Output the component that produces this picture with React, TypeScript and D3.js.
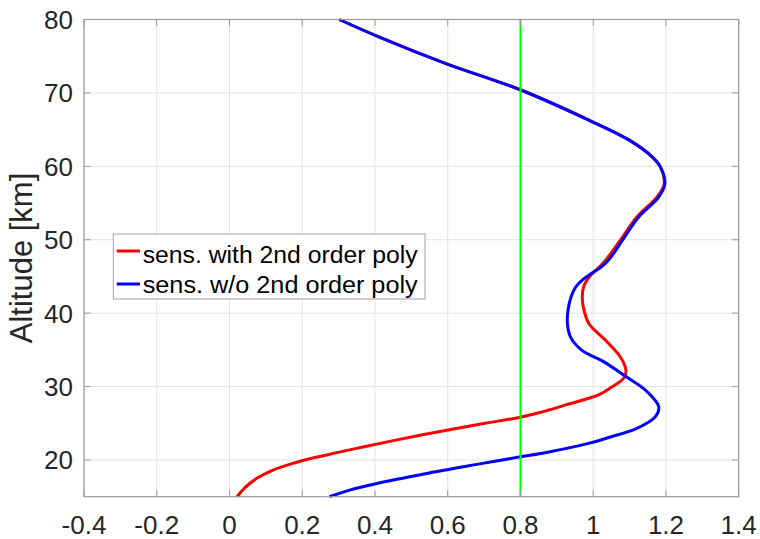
import React from "react";
import * as d3 from "d3";

// Altitude [km] and sensitivity values
const blueAlt = [80, 77.6, 74, 70.5, 66.3, 63.6, 61.3, 59.9, 57.6, 55.8, 53.1, 49.9, 47.4, 46.4, 45.5, 44.6, 43.5, 42.2, 40.5, 38.6, 36.7, 34.9, 33.5, 31.4, 29.5, 27.3, 25.9, 24.3, 23.1, 22.3, 21.1, 20.4, 19.4, 18.1, 16.8, 15.9, 15];
const blueVal = [0.302, 0.412, 0.595, 0.796, 0.988, 1.098, 1.162, 1.185, 1.197, 1.18, 1.125, 1.08, 1.045, 1.025, 0.998, 0.972, 0.951, 0.939, 0.931, 0.929, 0.938, 0.97, 1.025, 1.089, 1.144, 1.18, 1.171, 1.12, 1.045, 0.99, 0.878, 0.796, 0.68, 0.535, 0.405, 0.33, 0.275];

const redAlt = [80, 77.6, 74, 70.5, 66.3, 63.6, 61.3, 59.9, 57.6, 55.8, 53.1, 49.9, 47.4, 46.2, 45.0, 43.8, 42.4, 40.8, 38.6, 36.3, 34.0, 32.2, 31.2, 29.9, 28.9, 27.5, 26.5, 25.8, 25.0, 24.2, 23.4, 22.6, 21.8, 21.0, 20.3, 19.5, 18.6, 17.5, 16.2, 15];
const redVal = [0.302, 0.412, 0.595, 0.796, 0.988, 1.098, 1.162, 1.185, 1.195, 1.175, 1.12, 1.074, 1.037, 1.015, 0.99, 0.975, 0.97, 0.973, 0.988, 1.034, 1.075, 1.09, 1.085, 1.05, 1.016, 0.924, 0.856, 0.796, 0.702, 0.612, 0.527, 0.447, 0.37, 0.295, 0.232, 0.172, 0.118, 0.075, 0.042, 0.021];

const thresholdValue = 0.8;
const xTicks = [-0.4, -0.2, 0, 0.2, 0.4, 0.6, 0.8, 1, 1.2, 1.4];
const yTicks = [20, 30, 40, 50, 60, 70, 80];
const seriesNames = ["sens. with 2nd order poly", "sens. w/o 2nd order poly"];
const seriesColors = ["#ff0000", "#0000ff"];
const yLabel = "Altitude [km]";

const W = 760, H = 539;
const L = 84, R = 738.7, T = 19.5, B = 496.7;
const FONT = "'Liberation Sans', Arial, Helvetica, sans-serif";

export default function App() {
  const x = d3.scaleLinear().domain([-0.4, 1.4]).range([L, R]);
  const y = d3.scaleLinear().domain([15, 80]).range([B, T]);
  const line = d3
    .line<[number, number]>()
    .x((d) => x(d[1]))
    .y((d) => y(d[0]))
    .curve(d3.curveCatmullRom.alpha(0.5));
  const red = redAlt.map((a, i) => [a, redVal[i]] as [number, number]);
  const blue = blueAlt.map((a, i) => [a, blueVal[i]] as [number, number]);
  const tickLen = 6.5;
  const textCol = "#262626";
  const gridCol = "#e3e3e3";
  const boxCol = "#9a9a9a";

  return (
    <svg width={W} height={H} style={{ position: "absolute", left: 0, top: 0, background: "#fff" }} fontFamily={FONT}>
      <rect x={0} y={0} width={W} height={H} fill="#fff" />
      {/* grid */}
      {xTicks.map((t) => (
        <line key={"gx" + t} x1={x(t)} x2={x(t)} y1={T} y2={B} stroke={gridCol} strokeWidth={1} />
      ))}
      {yTicks.map((t) => (
        <line key={"gy" + t} x1={L} x2={R} y1={y(t)} y2={y(t)} stroke={gridCol} strokeWidth={1} />
      ))}
      {/* data */}
      <path d={line(red) || ""} fill="none" stroke={seriesColors[0]} strokeWidth={3} strokeLinejoin="round" />
      <path d={line(blue) || ""} fill="none" stroke={seriesColors[1]} strokeWidth={3} strokeLinejoin="round" />
      <line x1={x(thresholdValue)} x2={x(thresholdValue)} y1={T} y2={B} stroke="#00ff00" strokeWidth={2} />
      {/* box and ticks */}
      <rect x={L} y={T} width={R - L} height={B - T} fill="none" stroke={boxCol} strokeWidth={1.2} />
      {xTicks.map((t) => (
        <g key={"tx" + t}>
          <line x1={x(t)} x2={x(t)} y1={B} y2={B - tickLen} stroke={boxCol} />
          <line x1={x(t)} x2={x(t)} y1={T} y2={T + tickLen} stroke={boxCol} />
          <text x={x(t)} y={534} textAnchor="middle" fontSize={26} fill={textCol}>
            {t}
          </text>
        </g>
      ))}
      {yTicks.map((t) => (
        <g key={"ty" + t}>
          <line x1={L} x2={L + tickLen} y1={y(t)} y2={y(t)} stroke={boxCol} />
          <line x1={R} x2={R - tickLen} y1={y(t)} y2={y(t)} stroke={boxCol} />
          <text x={73} y={y(t) + 9.5} textAnchor="end" fontSize={26} fill={textCol}>
            {t}
          </text>
        </g>
      ))}
      <text transform={`translate(32,258) rotate(-90)`} textAnchor="middle" fontSize={31} fill={textCol}>
        {yLabel}
      </text>
      {/* legend */}
      <rect x={113.3} y={234} width={311.7} height={65} fill="#fff" stroke="#a0a0a0" strokeWidth={1} />
      {seriesNames.map((n, i) => (
        <g key={n}>
          <line x1={116.7} x2={140} y1={251 + i * 33} y2={251 + i * 33} stroke={seriesColors[i]} strokeWidth={3} />
          <text x={142.7} y={262.7 + i * 30} fontSize={23} fill="#000" textLength={275} lengthAdjust="spacingAndGlyphs">
            {n}
          </text>
        </g>
      ))}
    </svg>
  );
}
